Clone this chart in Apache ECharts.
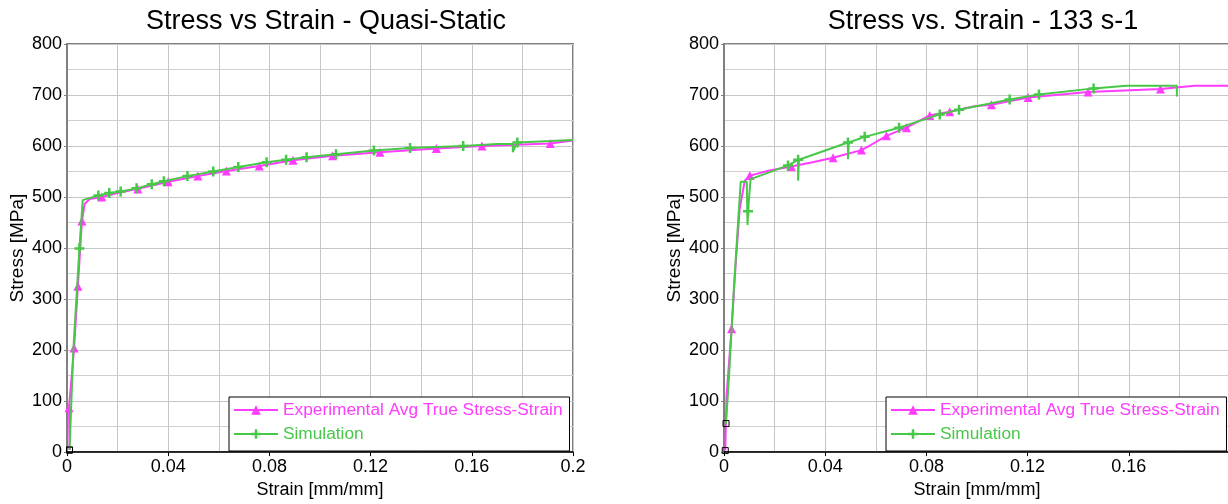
<!DOCTYPE html>
<html>
<head>
<meta charset="utf-8">
<title>Stress vs Strain</title>
<script src="https://cdn.jsdelivr.net/npm/echarts@6/dist/echarts.min.js"></script>
<style>
  html, body { margin: 0; padding: 0; background: #fff; overflow: hidden; }
  #chart { width: 1240px; height: 504px; }
</style>
</head>
<body>
<div id="chart"></div>
<script>
// Each point: [strain (mm/mm), stress (MPa), marker shown (1/0)]
const qsExpPoints = [
  [0.001, 4, 0], [0.0008, 87, 1], [0.0028, 204, 1], [0.0043, 325, 1], [0.0059, 453, 1],
  [0.007, 487, 0], [0.009, 496, 0], [0.0137, 500, 1], [0.02, 508, 0], [0.028, 516, 1],
  [0.04, 530, 1], [0.0517, 541, 1], [0.063, 551, 1], [0.076, 561, 1], [0.0893, 572, 1],
  [0.105, 581, 1], [0.1237, 588, 1], [0.146, 595, 1], [0.164, 600, 1], [0.191, 605, 1],
  [0.2, 611, 0]
];
const qsSimPoints = [
  [0.001, 4, 0], [0.0025, 200, 0], [0.0049, 399, 1], [0.0062, 494, 0], [0.0124, 503, 1],
  [0.0167, 508, 1], [0.0212, 511, 1], [0.0275, 517, 1], [0.0335, 525, 1], [0.0383, 531, 1],
  [0.0476, 541, 1], [0.0578, 550, 1], [0.0677, 559, 1], [0.0789, 568, 1], [0.0866, 573, 1],
  [0.0947, 578, 1], [0.1063, 584, 1], [0.1213, 591, 1], [0.1356, 596, 1], [0.1566, 600, 1],
  [0.17, 604, 0], [0.1762, 604, 0], [0.1762, 588, 0], [0.1772, 600, 0], [0.178, 607, 1],
  [0.2, 612, 0]
];
const hrExpPoints = [
  [0.0005, 3, 0], [0.001, 110, 0], [0.003, 242, 1], [0.0045, 360, 0], [0.0062, 477, 0],
  [0.0082, 532, 0], [0.0102, 542, 1], [0.018, 552, 0], [0.0266, 560, 1], [0.035, 568, 0],
  [0.0431, 577, 1], [0.0543, 592, 1], [0.058, 602, 0], [0.0642, 620, 1], [0.0721, 636, 1],
  [0.0813, 660, 1], [0.0892, 667, 1], [0.099, 678, 0], [0.1057, 681, 1], [0.1202, 695, 1],
  [0.1439, 706, 1], [0.1725, 712, 1], [0.186, 718, 0], [0.2, 718, 0]
];
const hrSimPoints = [
  [0.0008, 56, 0], [0.002, 150, 0], [0.004, 330, 0], [0.0066, 530, 0], [0.009, 530, 0],
  [0.0093, 445, 0], [0.0095, 472, 1], [0.0105, 535, 0], [0.016, 545, 0], [0.0253, 562, 1],
  [0.0293, 573, 1], [0.0293, 532, 0], [0.0296, 573, 0], [0.049, 607, 1], [0.049, 574, 0],
  [0.0493, 607, 0], [0.0556, 618, 1], [0.0692, 636, 1], [0.0853, 662, 1], [0.0929, 671, 1],
  [0.1129, 691, 1], [0.1245, 701, 1], [0.1461, 713, 1], [0.159, 718, 0], [0.179, 718, 0],
  [0.179, 697, 0]
];

const chartTitles = ['Stress vs Strain - Quasi-Static', 'Stress vs. Strain - 133 s-1'];
const seriesNames = ['Experimental Avg True Stress-Strain', 'Simulation'];
const strainRange = [0, 0.2];
const stressRange = [0, 800];

const FONT = 'Liberation Sans, Arial, sans-serif';
const MAGENTA = '#ff3cff';
const GREEN = '#48c848';
const PLUS = 'path://M3,0H5V3H8V5H5V8H3V5H0V3H3Z';

// first point of each curve is drawn with a hollow square, others only when flagged
function buildData(points) {
  return points.map((p, i) => {
    if (i === 0) {
      return {
        value: [p[0], p[1]], symbol: 'rect', symbolSize: 6,
        itemStyle: { color: 'rgba(0,0,0,0)', borderColor: '#000', borderWidth: 1 }
      };
    }
    return p[2] ? { value: [p[0], p[1]] } : { value: [p[0], p[1]], symbol: 'none' };
  });
}

const plots = [
  { left: 67, exp: qsExpPoints, sim: qsSimPoints, legendLeft: 229, showMax: true },
  { left: 724, exp: hrExpPoints, sim: hrSimPoints, legendLeft: 886, showMax: false }
];

const option = {
  animation: false,
  backgroundColor: '#fff',
  textStyle: { fontFamily: FONT },
  title: plots.map((p, i) => ({
    text: chartTitles[i],
    left: p.left + 254, top: 3, textAlign: 'center',
    textStyle: { fontFamily: FONT, fontSize: 27, fontWeight: 'normal', color: '#000' }
  })),
  legend: plots.map(p => ({
    left: p.legendLeft, top: 397, orient: 'vertical',
    backgroundColor: '#fff', borderColor: '#000', borderWidth: 1,
    padding: [3, 7, 7, 4], itemGap: 4, itemWidth: 44, itemHeight: 12,
    textStyle: { fontFamily: FONT, fontSize: 17.3, lineHeight: 20 },
    data: [
      { name: seriesNames[0], textStyle: { color: MAGENTA } },
      { name: seriesNames[1], textStyle: { color: GREEN } }
    ]
  })),
  grid: plots.map(p => ({
    left: p.left, top: 44, width: 506, height: 411,
    show: true, borderColor: '#808080', borderWidth: 2, backgroundColor: 'rgba(0,0,0,0)'
  })),
  xAxis: plots.map((p, i) => ({
    type: 'value', gridIndex: i, min: strainRange[0], max: strainRange[1], interval: 0.04,
    name: 'Strain [mm/mm]', nameLocation: 'middle', nameGap: 26,
    nameTextStyle: { fontFamily: FONT, fontSize: 18, color: '#000' },
    axisLine: { show: true, lineStyle: { color: '#000', width: 1.5 } },
    axisTick: { show: true, length: 4, lineStyle: { color: '#000' } },
    axisLabel: { fontFamily: FONT, fontSize: 18, color: '#000', margin: 6, showMaxLabel: p.showMax },
    splitLine: { show: true, lineStyle: { color: '#c6c6c6', width: 1 } },
    minorTick: { show: false, splitNumber: 2 },
    minorSplitLine: { show: true, lineStyle: { color: '#c6c6c6', width: 1 } }
  })),
  yAxis: plots.map((p, i) => ({
    type: 'value', gridIndex: i, min: stressRange[0], max: stressRange[1], interval: 100,
    name: 'Stress [MPa]', nameLocation: 'middle', nameGap: 40,
    nameTextStyle: { fontFamily: FONT, fontSize: 19, color: '#000' },
    axisLine: { show: true, lineStyle: { color: '#808080', width: 2 } },
    axisTick: { show: true, length: 3, lineStyle: { color: '#808080' } },
    axisLabel: { fontFamily: FONT, fontSize: 18, color: '#000', margin: 5 },
    splitLine: { show: true, lineStyle: { color: '#c6c6c6', width: 1 } },
    minorTick: { show: false, splitNumber: 2 },
    minorSplitLine: { show: true, lineStyle: { color: '#cfcfcf', width: 1 } }
  })),
  series: []
};

plots.forEach((p, i) => {
  option.series.push({
    name: seriesNames[0], type: 'line', xAxisIndex: i, yAxisIndex: i,
    data: buildData(p.exp), color: MAGENTA,
    symbol: 'triangle', symbolSize: 9, showAllSymbol: true,
    lineStyle: { width: 2, color: MAGENTA }, itemStyle: { color: MAGENTA },
    z: 2
  });
  option.series.push({
    name: seriesNames[1], type: 'line', xAxisIndex: i, yAxisIndex: i,
    data: buildData(p.sim), color: GREEN,
    symbol: PLUS, symbolSize: 10, showAllSymbol: true,
    lineStyle: { width: 2, color: GREEN }, itemStyle: { color: GREEN },
    z: 3
  });
});

const chart = echarts.init(document.getElementById('chart'), null, { renderer: 'canvas' });
chart.setOption(option);
</script>
</body>
</html>
